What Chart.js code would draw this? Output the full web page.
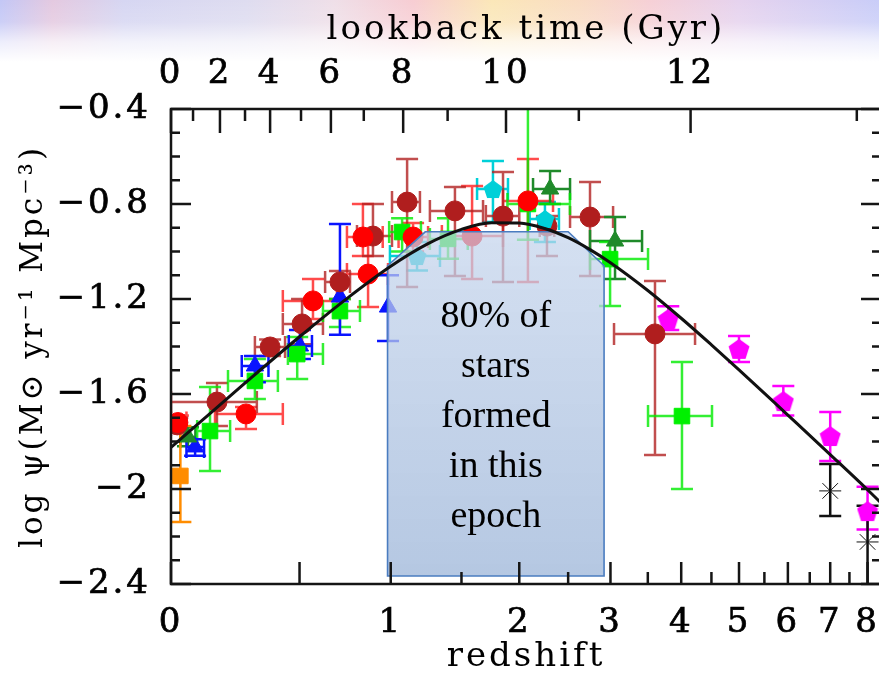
<!DOCTYPE html>
<html>
<head>
<meta charset="utf-8">
<script src="https://cdn.jsdelivr.net/npm/chart.js@4/dist/chart.umd.min.js"></script>
<style>
  html, body { margin: 0; padding: 0; overflow: hidden; }
  body {
    width: 879px; height: 675px; background-color: #fff;
    background-image:
      linear-gradient(to bottom, rgba(255,255,255,0) 0px, rgba(255,255,255,0.15) 22px, rgba(255,255,255,0.7) 42px, #fff 62px),
      linear-gradient(to right, #c3c7f6 0%, #e4c9e0 6%, #d6d6f2 14%, #dedcf0 28%, #efdfe8 38%, #f7cdd3 47%, #fbe7b8 56%, #f9dcc4 66%, #f6d0d6 74%, #e6d3ee 84%, #c9cdf8 100%);
    background-repeat: no-repeat;
    background-size: 100% 70px, 100% 70px;
  }
  #wrap { position: absolute; left: 0; top: 0; width: 900px; height: 675px; }
</style>
</head>
<body>
<div id="wrap"><canvas id="sfr" width="900" height="675"></canvas></div>
<script>
// redshift ticks (bottom axis)
const zTickValues = [0, 1, 2, 3, 4, 5, 6, 7, 8];
const zTickLabels = ['0', '1', '2', '3', '4', '5', '6', '7', '8'];
const zMajorExtra = [0.5];
const zMinorTicks = [1.5, 2.5, 3.5, 4.5, 5.5, 6.5, 7.5];

// lookback time ticks (top axis), redshift at each whole Gyr
const lookbackGyr = [0, 1, 2, 3, 4, 5, 6, 7, 8, 9, 10, 11, 12, 13];
const lookbackZ = [0, 0.072, 0.167, 0.263, 0.367, 0.507, 0.656, 0.837, 1.08, 1.393, 1.877, 2.62, 4.15, 7.7];

// log psi ticks
const yTickValues = [-2.4, -2, -1.6, -1.2, -0.8, -0.4];
const yTickLabels = ['\u22122.4', '\u22122', '\u22121.6', '\u22121.2', '\u22120.8', '\u22120.4'];

// fitted star formation history
const curveZ = [0, 0.1, 0.25, 0.5, 0.75, 1, 1.25, 1.5, 1.75, 2, 2.25, 2.5, 2.75, 3, 3.5, 4, 4.5, 5, 6, 7, 8, 8.4];
const curvePsi = [-1.825, -1.714, -1.566, -1.359, -1.193, -1.062, -0.967, -0.907, -0.879, -0.880, -0.903, -0.942, -0.992, -1.047, -1.164, -1.281, -1.393, -1.498, -1.689, -1.855, -2.003, -2.06];

// "80% of stars" epoch outline
const boxZ = [0.98, 0.98, 1.23, 2.5, 2.92, 2.92];
const boxPsi = [-2.366, -1.06, -0.917, -0.917, -1.06, -2.366];
const boxText = ['80% of', 'stars', 'formed', 'in this', 'epoch'];

// measurements: [z, log psi, psi low, psi high, z low, z high]
const redPts = [
  [0.022, -1.72, -1.75, -1.69, 0.0, 0.05],
  [0.267, -1.684, -1.747, -1.655, 0.149, 0.423],
  [0.565, -1.208, -1.284, -1.116, 0.423, 0.688],
  [0.832, -0.939, -1.019, -0.80, 0.742, 0.95],
  [0.862, -1.095, -1.234, -0.956, 0.742, 0.983],
  [1.146, -0.939, -1.0, -0.88, 1.05, 1.25],
  [1.585, -0.935, -1.116, -0.724, 1.35, 1.85],
  [2.083, -0.787, -1.128, -0.611, 1.85, 2.337]
];
const brownPts = [
  [0.02, -1.73, -1.76, -1.70, 0.0, 0.04],
  [0.156, -1.634, -1.735, -1.554, 0.0, 0.311],
  [0.367, -1.402, -1.44, -1.37, 0.303, 0.433],
  [0.512, -1.305, -1.39, -1.2, 0.423, 0.615],
  [0.704, -1.128, -1.2, -1.082, 0.626, 0.759],
  [0.891, -0.935, -1.019, -0.8, 0.798, 1.008],
  [1.106, -0.792, -1.149, -0.611, 1.008, 1.193],
  [1.449, -0.829, -1.103, -0.728, 1.263, 1.676],
  [1.85, -0.851, -1.128, -0.665, 1.70, 2.0],
  [2.274, -0.893, -1.019, -0.851, 2.2, 2.35],
  [2.75, -0.855, -1.103, -0.707, 2.521, 3.033],
  [3.603, -1.347, -1.857, -1.124, 3.045, 4.223]
];
const greenPts = [
  [0.131, -1.756, -1.924, -1.57, 0.086, 0.205],
  [0.303, -1.545, -1.621, -1.453, 0.197, 0.401],
  [0.489, -1.432, -1.537, -1.36, 0.446, 0.615],
  [0.704, -1.251, -1.318, -1.2, 0.615, 0.815],
  [1.073, -0.918, -1.0, -0.86, 0.99, 1.2],
  [1.396, -0.947, -1.03, -0.86, 1.263, 1.55],
  [2.083, -0.8, -0.95, -0.36, 1.89, 2.52],
  [2.995, -1.032, -1.229, -0.96, 2.75, 3.503],
  [4.012, -1.693, -2.0, -1.465, 3.503, 4.51]
];
const darkGreenPts = [
  [0.055, -1.781, -1.82, -1.74, 0.03, 0.08],
  [2.306, -0.737, -0.8, -0.661, 2.133, 2.521],
  [3.058, -0.956, -1.116, -0.855, 2.75, 3.419]
];
const bluePts = [
  [0.079, -1.823, -1.86, -1.79, 0.05, 0.11],
  [0.303, -1.482, -1.55, -1.44, 0.25, 0.36],
  [0.502, -1.398, -1.453, -1.33, 0.45, 0.56],
  [0.704, -1.192, -1.35, -0.884, 0.704, 0.704],
  [0.983, -1.234, -1.377, -1.1, 0.983, 0.983]
];
const cyanPts = [
  [1.173, -1.019, -1.08, -0.96, 0.995, 1.336],
  [1.761, -0.737, -0.876, -0.619, 1.626, 1.895],
  [2.253, -0.863, -0.96, -0.792, 2.1, 2.4]
];
const magentaPts = [
  [3.8, -1.284, -1.33, -1.23, 3.8, 3.8],
  [5.0, -1.41, -1.465, -1.356, 5.0, 5.0],
  [5.9, -1.63, -1.69, -1.566, 5.9, 5.9],
  [7.0, -1.777, -1.882, -1.676, 7.0, 7.0],
  [8.0, -2.093, -2.17, -1.99, 8.0, 8.0]
];
const blackPts = [
  [7.0, -2.008, -2.114, -1.895, 7.0, 7.0],
  [8.0, -2.223, -2.45, -2.07, 8.0, 8.0]
];
const orangePts = [
  [0.03, -1.945, -2.139, -1.735, 0.03, 0.03]
];

const axisFont = 'DejaVu Serif';

function pentagon(color, size) {
  const c = document.createElement('canvas');
  c.width = size; c.height = size;
  const g = c.getContext('2d');
  g.fillStyle = color;
  g.beginPath();
  for (let i = 0; i < 5; i++) {
    const a = -Math.PI / 2 + i * 2 * Math.PI / 5;
    const px = size / 2 + (size / 2) * Math.cos(a);
    const py = size / 2 + 1 + (size / 2) * Math.sin(a);
    if (i === 0) g.moveTo(px, py); else g.lineTo(px, py);
  }
  g.closePath();
  g.fill();
  return c;
}

function series(rows, color, style, radius, errColor) {
  return {
    type: 'scatter',
    data: rows.map(r => ({ x: 1 + r[0], y: r[1] })),
    rows: rows,
    errColor: errColor || color,
    pointStyle: style,
    pointRadius: radius,
    pointHoverRadius: radius,
    backgroundColor: color,
    borderColor: color,
    borderWidth: 1
  };
}

const datasets = [
  {
    type: 'line',
    data: curveZ.map((z, i) => ({ x: 1 + z, y: curvePsi[i] })),
    borderColor: '#111',
    borderWidth: 3,
    pointRadius: 0,
    cubicInterpolationMode: 'monotone',
    fill: false
  },
  series(cyanPts, '#00d0d8', pentagon('#00d0d8', 20), 10),
  series(redPts, '#ff0000', 'circle', 10, 'rgba(255,30,30,0.8)'),
  series(brownPts, '#b01e1e', 'circle', 10, 'rgba(178,34,34,0.8)'),
  series(darkGreenPts, '#1f8a2a', 'triangle', 10),
  series(greenPts, '#00f000', 'rect', 11, 'rgba(0,235,0,0.8)'),
  series(bluePts, '#0a14ff', 'triangle', 10),
  series(magentaPts, '#ff00ff', pentagon('#ff00ff', 22), 11),
  series(blackPts, '#111', 'star', 11),
  series(orangePts, '#ff8c00', 'rect', 11)
];

function clipArea(ctx, a) {
  ctx.beginPath();
  ctx.rect(a.left, a.top, a.right - a.left, a.bottom - a.top);
  ctx.clip();
}

const tickFont = { family: axisFont, size: 34 };
const tickStroke = { textStrokeColor: '#000', textStrokeWidth: 0.7 };

const decorations = {
  id: 'decorations',
  beforeDraw(chart) {
    // the axis lettering in the original is widely spaced
    chart.ctx.letterSpacing = '3px';
  },
  beforeDatasetsDraw(chart) {
    const { ctx, chartArea, scales: { x, y } } = chart;
    const cap = 11;
    ctx.save();
    clipArea(ctx, chartArea);
    ctx.lineWidth = 2.5;
    chart.data.datasets.forEach(ds => {
      if (!ds.rows) return;
      ctx.strokeStyle = ds.errColor;
      ds.rows.forEach(r => {
        const px = x.getPixelForValue(1 + r[0]);
        const py = y.getPixelForValue(r[1]);
        const yLo = y.getPixelForValue(r[2]);
        const yHi = y.getPixelForValue(r[3]);
        ctx.beginPath();
        ctx.moveTo(px, yLo); ctx.lineTo(px, yHi);
        ctx.moveTo(px - cap, yLo); ctx.lineTo(px + cap, yLo);
        ctx.moveTo(px - cap, yHi); ctx.lineTo(px + cap, yHi);
        if (r[5] > r[4]) {
          const xLo = x.getPixelForValue(1 + r[4]);
          const xHi = x.getPixelForValue(1 + r[5]);
          ctx.moveTo(xLo, py); ctx.lineTo(xHi, py);
          ctx.moveTo(xLo, py - cap); ctx.lineTo(xLo, py + cap);
          ctx.moveTo(xHi, py - cap); ctx.lineTo(xHi, py + cap);
        }
        ctx.stroke();
      });
    });
    ctx.restore();
  },
  afterDatasetDraw(chart, args) {
    // shaded epoch goes over the data, under the fitted curve
    if (args.index !== 1) return;
    const { ctx, scales: { x, y } } = chart;
    const pts = boxZ.map((z, i) => [x.getPixelForValue(1 + z), y.getPixelForValue(boxPsi[i])]);
    const top = y.getPixelForValue(Math.max(...boxPsi));
    const bottom = y.getPixelForValue(Math.min(...boxPsi));
    const grad = ctx.createLinearGradient(0, top, 0, bottom);
    grad.addColorStop(0, 'rgba(196,212,236,0.72)');
    grad.addColorStop(1, 'rgba(160,184,218,0.78)');
    ctx.save();
    ctx.beginPath();
    pts.forEach((p, i) => i ? ctx.lineTo(p[0], p[1]) : ctx.moveTo(p[0], p[1]));
    ctx.closePath();
    ctx.fillStyle = grad;
    ctx.fill();
    ctx.lineWidth = 1.6;
    ctx.strokeStyle = '#4a7cc0';
    ctx.stroke();
    ctx.restore();
  },
  afterDraw(chart) {
    const { ctx, chartArea: a, scales: { x, y } } = chart;
    ctx.save();
    ctx.strokeStyle = '#151515';
    ctx.lineWidth = 2.5;
    ctx.beginPath();
    const tick = (x0, y0, x1, y1) => { ctx.moveTo(x0, y0); ctx.lineTo(x1, y1); };
    zTickValues.concat(zMajorExtra).forEach(z => {
      const px = x.getPixelForValue(1 + z);
      tick(px, a.bottom, px, a.bottom - 22);
    });
    zMinorTicks.forEach(z => {
      const px = x.getPixelForValue(1 + z);
      tick(px, a.bottom, px, a.bottom - 12);
    });
    lookbackZ.forEach((z, i) => {
      const px = x.getPixelForValue(1 + z);
      tick(px, a.top, px, a.top + (lookbackGyr[i] % 2 === 0 ? 24 : 12));
    });
    for (let k = 0; k <= 20; k++) {
      const v = -2.4 + k * 0.1;
      const py = y.getPixelForValue(v);
      const len = k % 4 === 0 ? 20 : 9;
      tick(a.left, py, a.left + len, py);
      tick(a.right, py, a.right - len, py);
    }
    ctx.stroke();
    ctx.lineWidth = 2.5;
    ctx.strokeRect(a.left, a.top, a.right - a.left, a.bottom - a.top);

    // label inside the epoch box
    const cx = (x.getPixelForValue(1 + boxZ[0]) + x.getPixelForValue(1 + boxZ[boxZ.length - 1])) / 2;
    const midY = (y.getPixelForValue(Math.max(...boxPsi)) + y.getPixelForValue(Math.min(...boxPsi))) / 2;
    ctx.letterSpacing = '0px';
    ctx.fillStyle = '#000';
    ctx.font = '38px "Liberation Serif"';
    ctx.textAlign = 'center';
    ctx.textBaseline = 'alphabetic';
    boxText.forEach((t, i) => ctx.fillText(t, cx, midY + 23 + (i - 2) * 50));
    ctx.restore();
  }
};

new Chart(document.getElementById('sfr'), {
  data: { datasets },
  options: {
    responsive: false,
    animation: false,
    layout: { padding: { left: 0, right: 19, top: 0, bottom: 0 } },
    plugins: { legend: { display: false }, tooltip: { enabled: false } },
    scales: {
      x: {
        type: 'logarithmic',
        position: 'bottom',
        min: 1,
        max: 9.39,
        afterBuildTicks: s => { s.ticks = zTickValues.map(z => ({ value: 1 + z })); },
        afterFit: s => { s.height = 91; },
        grid: { display: false, drawTicks: false },
        border: { display: false },
        ticks: Object.assign({
          autoSkip: false, maxRotation: 0, padding: 19, color: '#000', font: tickFont,
          callback: (v, i) => zTickLabels[i]
        }, tickStroke),
        title: {
          display: true, text: 'redshift', color: '#000',
          font: { family: axisFont, size: 34 }, padding: { top: 0, bottom: -3 }
        }
      },
      x2: {
        type: 'logarithmic',
        position: 'top',
        min: 1,
        max: 9.39,
        afterBuildTicks: s => {
          s.ticks = lookbackZ.filter((z, i) => lookbackGyr[i] % 2 === 0 && lookbackGyr[i] <= 12).map(z => ({ value: 1 + z }));
        },
        afterFit: s => { s.height = 109; },
        grid: { display: false, drawTicks: false },
        border: { display: false },
        ticks: Object.assign({
          autoSkip: false, maxRotation: 0, padding: 14, color: '#000', font: tickFont,
          callback: (v, i) => String(lookbackGyr.filter(g => g % 2 === 0 && g <= 12)[i])
        }, tickStroke),
        title: {
          display: true, text: 'lookback time (Gyr)', color: '#000',
          font: { family: axisFont, size: 34 }, padding: { top: 10, bottom: 0 }
        }
      },
      y: {
        type: 'linear',
        position: 'left',
        min: -2.4,
        max: -0.4,
        afterBuildTicks: s => { s.ticks = yTickValues.map(v => ({ value: v })); },
        afterFit: s => { s.width = 171; },
        grid: { display: false, drawTicks: false },
        border: { display: false },
        ticks: Object.assign({
          autoSkip: false, padding: 20, color: '#000', font: tickFont,
          callback: (v, i) => yTickLabels[i]
        }, tickStroke),
        title: {
          display: true, text: 'log \u03c8(M\u2299 yr\u207b\u00b9 Mpc\u207b\u00b3)', color: '#000',
          font: { family: axisFont, size: 31 }, padding: { top: 15, bottom: 0 }
        }
      }
    }
  },
  plugins: [decorations]
});
</script>
</body>
</html>
